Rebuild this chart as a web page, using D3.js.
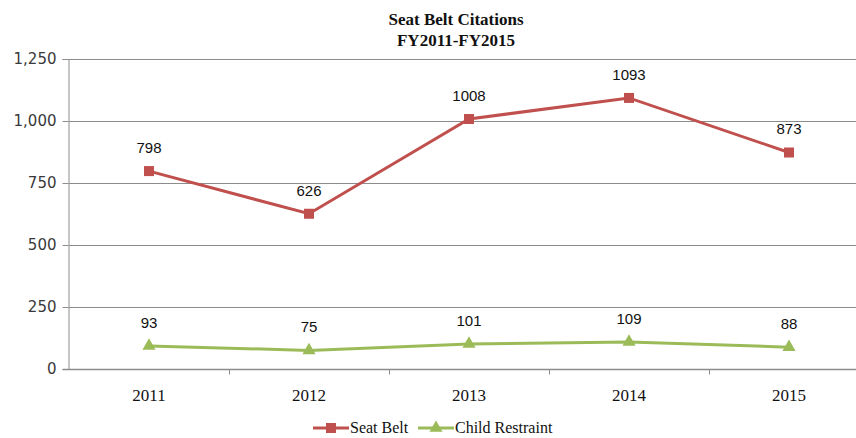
<!DOCTYPE html>
<html>
<head>
<meta charset="utf-8">
<script src="https://cdn.jsdelivr.net/npm/d3@7/dist/d3.min.js"></script>
<style>
  html, body { margin: 0; padding: 0; background: #fff; }
  svg { display: block; }
</style>
</head>
<body>
<svg id="chart" width="856" height="438"></svg>
<script>
// Citation counts by fiscal year
const years = ["2011", "2012", "2013", "2014", "2015"];
const seatBelt = [798, 626, 1008, 1093, 873];
const childRestraint = [93, 75, 101, 109, 88];
const yTicks = [0, 250, 500, 750, 1000, 1250];
const titleLines = ["Seat Belt Citations", "FY2011-FY2015"];

const series = [
  { name: "Seat Belt", values: seatBelt, color: "#C0504D", marker: "square" },
  { name: "Child Restraint", values: childRestraint, color: "#9BBB59", marker: "triangle" }
];

const svg = d3.select("#chart");
const plot = { left: 69, right: 869, top: 59, bottom: 369 };

const x = d3.scaleBand().domain(years).range([plot.left, plot.right]);
const y = d3.scaleLinear().domain([0, 1250]).range([plot.bottom, plot.top]);

// Title
svg.append("text")
  .attr("x", 456).attr("text-anchor", "middle")
  .style("font-family", "'Liberation Serif', 'Times New Roman', serif")
  .style("font-weight", "bold").style("font-size", "17px").attr("fill", "#111")
  .selectAll("tspan").data(titleLines).join("tspan")
  .attr("x", 456).attr("y", (d, i) => 25 + i * 21).text(d => d);

// Horizontal gridlines
svg.append("g").selectAll("line").data(yTicks.filter(t => t > 0)).join("line")
  .attr("x1", plot.left).attr("x2", 856)
  .attr("y1", d => Math.round(y(d)) + 0.5).attr("y2", d => Math.round(y(d)) + 0.5)
  .attr("stroke", "#8c8c8c").attr("stroke-width", 1);

// Y axis
const yAxis = svg.append("g")
  .attr("transform", `translate(${plot.left - 0.5},0)`)
  .call(d3.axisLeft(y).tickValues(yTicks).tickSize(6).tickPadding(6).tickFormat(d3.format(",")));
yAxis.select(".domain").attr("stroke", "#8c8c8c");
yAxis.selectAll(".tick line").attr("stroke", "#8c8c8c");
yAxis.selectAll(".tick text")
  .style("font-family", "'DejaVu Sans', Tahoma, sans-serif").style("font-size", "15px")
  .attr("fill", "#3a3a3a");

// X axis with ticks on category boundaries
const xAxisG = svg.append("g").attr("transform", `translate(0,${Math.round(plot.bottom) + 0.5})`);
xAxisG.append("line").attr("x1", plot.left - 6).attr("x2", 856)
  .attr("stroke", "#8c8c8c").attr("stroke-width", 1.5);
xAxisG.selectAll("line.tk").data(years.slice(1)).join("line").attr("class", "tk")
  .attr("x1", d => Math.round(x(d)) + 0.5).attr("x2", d => Math.round(x(d)) + 0.5)
  .attr("y1", 0).attr("y2", 5).attr("stroke", "#8c8c8c");
xAxisG.selectAll("text").data(years).join("text")
  .attr("x", d => x(d) + x.bandwidth() / 2).attr("y", 31)
  .attr("text-anchor", "middle")
  .style("font-family", "'Liberation Serif', 'Times New Roman', serif").style("font-size", "17px")
  .attr("fill", "#111").text(d => d);

// Lines, markers, value labels
const line = d3.line().x((d, i) => x(years[i]) + x.bandwidth() / 2).y(d => y(d));
const triangle = d3.symbol().type(d3.symbolTriangle).size(75);

series.forEach(s => {
  const g = svg.append("g");
  g.append("path").datum(s.values).attr("d", line)
    .attr("fill", "none").attr("stroke", s.color).attr("stroke-width", 3);
  const pts = g.selectAll("g.pt").data(s.values).join("g").attr("class", "pt")
    .attr("transform", (d, i) => `translate(${x(years[i]) + x.bandwidth() / 2},${y(d)})`);
  if (s.marker === "square") {
    pts.append("rect").attr("x", -5).attr("y", -5).attr("width", 10).attr("height", 10).attr("fill", s.color);
  } else {
    pts.append("path").attr("d", triangle).attr("fill", s.color);
  }
  g.selectAll("text").data(s.values).join("text")
    .attr("x", (d, i) => x(years[i]) + x.bandwidth() / 2)
    .attr("y", d => y(d) - 18)
    .attr("text-anchor", "middle")
    .style("font-family", "'Liberation Sans', Arial, sans-serif").style("font-size", "15px")
    .attr("fill", "#111").text(d => d);
});

// Legend
const legend = svg.append("g").attr("transform", "translate(0,428)");
const legendItems = [{ s: series[0], x: 313 }, { s: series[1], x: 418 }];
legendItems.forEach(({ s, x: lx }) => {
  legend.append("line").attr("x1", lx).attr("x2", lx + 36).attr("y1", 0).attr("y2", 0)
    .attr("stroke", s.color).attr("stroke-width", 3);
  if (s.marker === "square") {
    legend.append("rect").attr("x", lx + 13).attr("y", -5).attr("width", 10).attr("height", 10).attr("fill", s.color);
  } else {
    legend.append("path").attr("d", triangle).attr("transform", `translate(${lx + 18},0)`).attr("fill", s.color);
  }
  legend.append("text").attr("x", lx + 37).attr("y", 5)
    .style("font-family", "'Liberation Serif', 'Times New Roman', serif").style("font-size", "16px")
    .attr("fill", "#111").text(s.name);
});
</script>
</body>
</html>
